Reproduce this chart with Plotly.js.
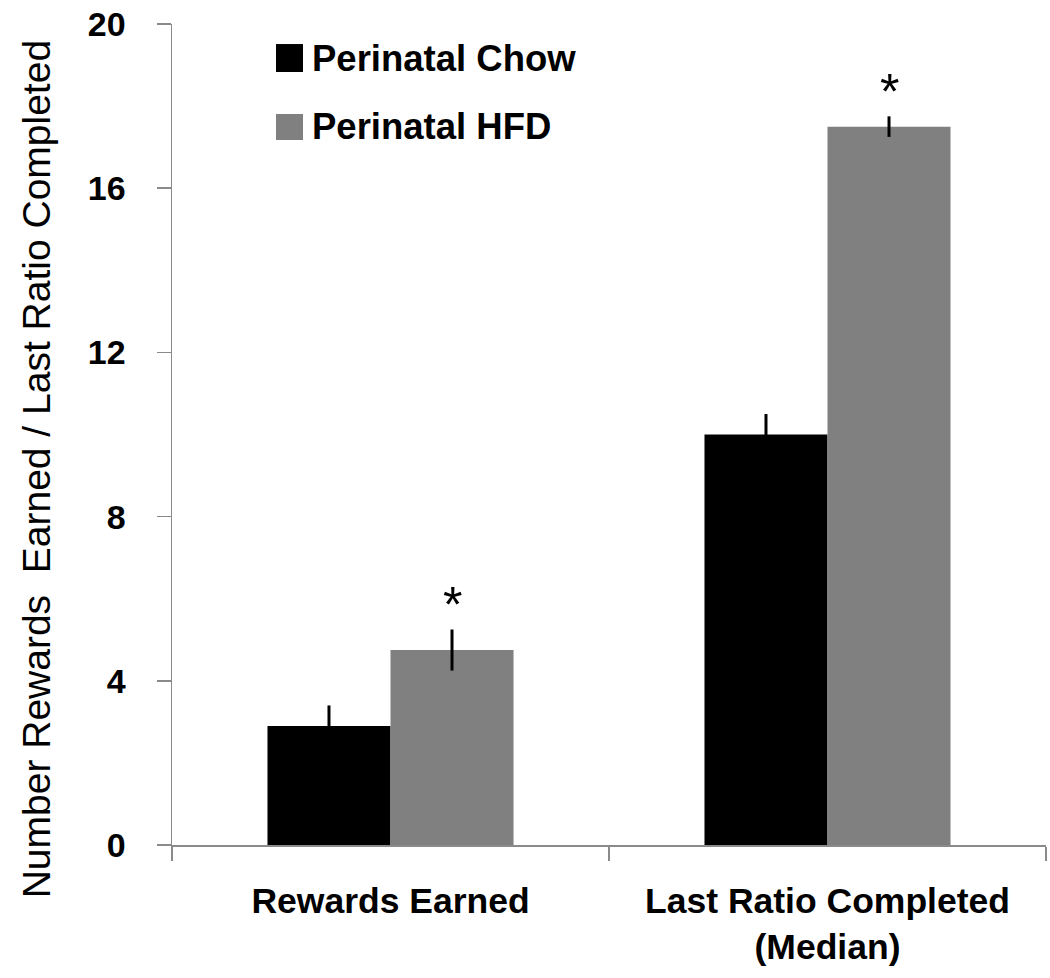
<!DOCTYPE html>
<html>
<head>
<meta charset="utf-8">
<script src="https://cdn.plot.ly/plotly-3.0.1.min.js"></script>
<style>
  html, body { margin: 0; padding: 0; background: #ffffff; }
  #chart { width: 1050px; height: 978px; }
</style>
</head>
<body>
<div id="chart"></div>
<script>
// ---- data ----
var categories = ["Rewards Earned", "Last Ratio Completed<br>(Median)"];
var seriesNames = ["Perinatal Chow", "Perinatal HFD"];
var chowValues = [2.9, 10.0];
var chowErrors = [0.5, 0.5];
var hfdValues = [4.75, 17.5];
var hfdErrors = [0.5, 0.25];
var significant = [true, true]; // asterisks above HFD bars
var yTickValues = [0, 4, 8, 12, 16, 20];
var yTitle = "Number Rewards  Earned / Last Ratio Completed";

// ---- style ----
var axisGray = "#8a8a8a";
var seriesColors = ["#000000", "#808080"];
var bargap = 0.437;
var fontMain = "Liberation Sans, Arial, sans-serif";

var traces = [
  {
    type: "bar",
    name: seriesNames[0],
    x: categories,
    y: chowValues,
    marker: { color: seriesColors[0], line: { width: 0 } },
    error_y: { type: "data", array: chowErrors, visible: true, color: "#000000", thickness: 3, width: 0 }
  },
  {
    type: "bar",
    name: seriesNames[1],
    x: categories,
    y: hfdValues,
    marker: { color: seriesColors[1], line: { width: 0 } },
    error_y: { type: "data", array: hfdErrors, visible: true, color: "#000000", thickness: 3, width: 0 }
  }
];

var hfdOffset = (1 - bargap) / 4;
var annotations = [];
for (var i = 0; i < categories.length; i++) {
  if (significant[i]) {
    annotations.push({
      xref: "x", yref: "y",
      x: i + hfdOffset,
      y: hfdValues[i] + hfdErrors[i],
      text: "*",
      showarrow: false,
      xanchor: "center",
      yanchor: "bottom",
      yshift: -6,
      font: { family: fontMain, size: 50, color: "#000000" }
    });
  }
}

// y-axis title (rotated), placed slightly below the axis centre as in the reference
annotations.push({
  xref: "paper", yref: "paper",
  x: -0.155, y: 0.457,
  xanchor: "center", yanchor: "middle",
  textangle: -90,
  text: yTitle,
  showarrow: false,
  font: { family: fontMain, size: 39, color: "#000000" }
});

// legend (large square swatches + bold labels)
var legendSwatch = { x0: 0.119, x1: 0.1499 };
var legendRows = [
  { y0: 0.9415, y1: 0.9756 },
  { y0: 0.8587, y1: 0.8904 }
];
var shapes = [];
for (var k = 0; k < seriesNames.length; k++) {
  shapes.push({
    type: "rect", xref: "paper", yref: "paper",
    x0: legendSwatch.x0, x1: legendSwatch.x1,
    y0: legendRows[k].y0, y1: legendRows[k].y1,
    fillcolor: seriesColors[k],
    line: { width: 0 }
  });
  annotations.push({
    xref: "paper", yref: "paper",
    x: 0.1578, y: (legendRows[k].y0 + legendRows[k].y1) / 2,
    xanchor: "left", yanchor: "middle",
    text: seriesNames[k],
    showarrow: false,
    font: { family: fontMain, size: 36.5, color: "#000000", weight: "bold" }
  });
}

var layout = {
  width: 1050,
  height: 978,
  margin: { l: 172, r: 4, t: 24, b: 133 },
  paper_bgcolor: "#ffffff",
  plot_bgcolor: "#ffffff",
  barmode: "group",
  bargap: bargap,
  bargroupgap: 0,
  showlegend: false,
  xaxis: {
    type: "category",
    range: [-0.5, 1.5],
    showline: true,
    linecolor: axisGray,
    linewidth: 1.5,
    ticks: "outside",
    tickson: "boundaries",
    ticklen: 14,
    tickwidth: 1.5,
    tickcolor: axisGray,
    ticklabelstandoff: 24,
    tickfont: { family: fontMain, size: 35.5, color: "#000000", weight: "bold" },
    showgrid: false,
    zeroline: false,
    fixedrange: true
  },
  yaxis: {
    range: [0, 20],
    tickvals: yTickValues,
    ticktext: yTickValues.map(String),
    showline: true,
    linecolor: axisGray,
    linewidth: 1.5,
    ticks: "outside",
    ticklen: 14,
    tickwidth: 1.5,
    tickcolor: axisGray,
    ticklabelstandoff: 24,
    tickfont: { family: fontMain, size: 34, color: "#000000", weight: "bold" },
    showgrid: false,
    zeroline: false,
    fixedrange: true
  },
  shapes: shapes,
  annotations: annotations
};

Plotly.newPlot("chart", traces, layout, { displayModeBar: false, staticPlot: true });
</script>
</body>
</html>
